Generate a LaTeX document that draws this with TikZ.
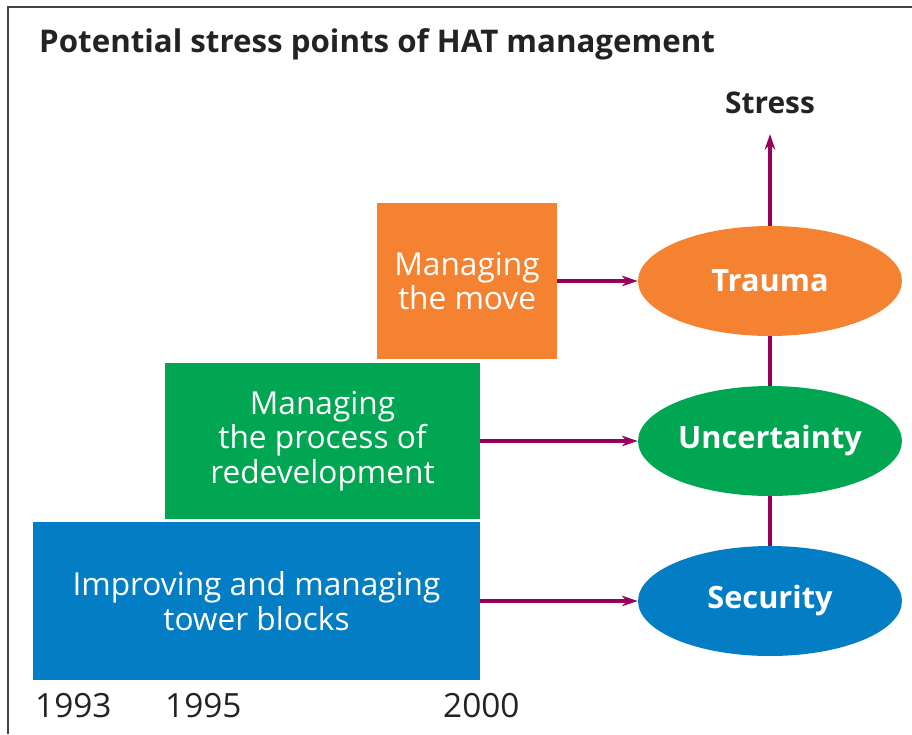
\documentclass[tikz,border=0pt]{standalone}
\usepackage{fontspec}
\setmainfont{Open Sans}
\usetikzlibrary{shapes.geometric,arrows.meta}
\definecolor{hatorange}{RGB}{244,130,48}
\definecolor{hatgreen}{RGB}{0,166,81}
\definecolor{hatblue}{RGB}{3,125,196}
\definecolor{hatpurple}{RGB}{150,0,90}
\definecolor{hatink}{RGB}{35,35,35}
\newcommand\boxh{3.14cm}

\begin{document}
\begin{tikzpicture}[x=0.02cm,y=-0.02cm,
    stage/.style={rectangle,inner sep=0pt,text=white,align=center,font=\fontsize{18}{19.6}\selectfont},
    state/.style={ellipse,inner sep=0pt,minimum width=5.28cm,minimum height=2.2cm,text=white,font=\fontsize{17.5}{19}\selectfont\bfseries},
    year/.style={anchor=west,text=hatink,font=\fontsize{19}{21}\selectfont},
    link/.style={hatpurple,line width=2.2pt},
    tip/.style={link,-{Stealth[length=9pt,width=6pt]}}]
    \useasboundingbox (0,0) rectangle (912,734);
    \draw[hatink!85,line width=1.2pt] (8,734) -- (8,7) -- (912,7); % frame
    \node (title) at (33,44) [anchor=west,text=hatink,font=\fontsize{17.8}{20}\selectfont\bfseries] {Potential stress points of HAT management};
    \node (stress) at (770,103) [text=hatink,font=\fontsize{17}{19}\selectfont\bfseries] {Stress};
    \coordinate (top) at (770,134);
    % stages
    \node (move) at (467,281) [stage,fill=hatorange,minimum width=3.6cm,minimum height=\boxh] {Managing\\the move};
    \node (process) at (322.5,441) [stage,fill=hatgreen,minimum width=6.3cm,minimum height=3.12cm] {Managing\\the process of\\redevelopment};
    \node (blocks) at (256.5,601) [stage,fill=hatblue,minimum width=8.94cm,minimum height=3.16cm] {Improving and managing\\tower blocks};
    % states
    \node (trauma) at (770,281) [state,fill=hatorange] {Trauma};
    \node (uncert) at (770,441) [state,fill=hatgreen] {Uncertainty};
    \node (secur) at (770,601) [state,fill=hatblue] {Security};
    \draw[link] (secur) to (uncert) to (trauma);
    \draw[tip] (trauma) to (top);
    \draw[tip] (move) to (trauma);
    \draw[tip] (process) to (uncert);
    \draw[tip] (blocks) to (secur);
    % years
    \node (y93) at (29,706) [year] {1993};
    \node (y95) at (159,706) [year] {1995};
    \node (y00) at (437,706) [year] {2000};
  \end{tikzpicture}
\end{document}
